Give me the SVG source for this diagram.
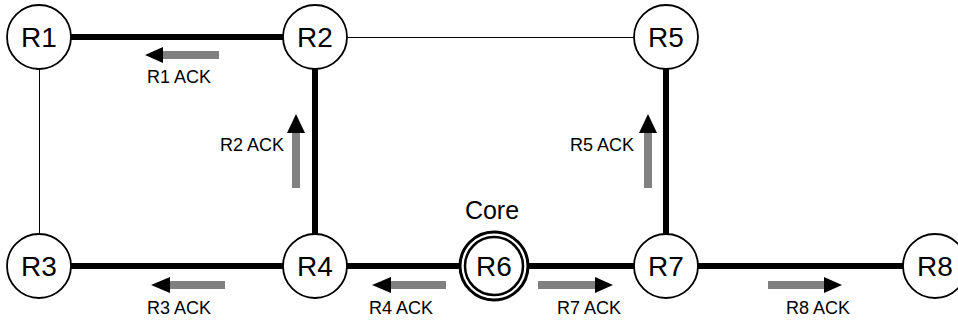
<svg xmlns="http://www.w3.org/2000/svg" width="958" height="322" viewBox="0 0 958 322">
<style>
.thin{stroke:#000;stroke-width:1;fill:none}
.thick{stroke:#000;stroke-width:6;fill:none}
.node{fill:#fff;stroke:#000;stroke-width:1.8}
.nl{font-family:"Liberation Sans",Arial,sans-serif;font-size:28px;text-anchor:middle;fill:#000}
.al{font-family:"Liberation Sans",Arial,sans-serif;font-size:18px;fill:#000}
.bar{fill:#808080}
.head{fill:#000}
</style>
<rect width="958" height="322" fill="#fff"/>
<g id="connectors">
<line class="thin" x1="39.5" y1="37" x2="39.5" y2="266"/>
<line class="thin" x1="315" y1="37.5" x2="666" y2="37.5"/>
<line class="thick" x1="39" y1="37" x2="315" y2="37"/>
<line class="thick" x1="315" y1="37" x2="315" y2="266"/>
<line class="thick" x1="666" y1="37" x2="666" y2="266"/>
<line class="thick" x1="39" y1="266" x2="935" y2="266"/>
</g>
<g id="acks">
<g id="ack-r1"><rect class="bar" x="163" y="51" width="56" height="8"/><polygon class="head" points="145,55 163,47 163,63"/><text class="al" x="179" y="83" text-anchor="middle">R1 ACK</text></g>
<g id="ack-r2"><rect class="bar" x="292" y="133" width="8" height="55"/><polygon class="head" points="296,114 287,133 305,133"/><text class="al" x="284" y="151" text-anchor="end">R2 ACK</text></g>
<g id="ack-r5"><rect class="bar" x="644" y="133" width="8" height="55"/><polygon class="head" points="648,114 639,133 657,133"/><text class="al" x="634" y="151" text-anchor="end">R5 ACK</text></g>
<g id="ack-r3"><rect class="bar" x="170" y="281" width="55" height="8"/><polygon class="head" points="151,285 170,277 170,293"/><text class="al" x="179" y="314" text-anchor="middle">R3 ACK</text></g>
<g id="ack-r4"><rect class="bar" x="391" y="281" width="55" height="8"/><polygon class="head" points="372,285 391,277 391,293"/><text class="al" x="401" y="314" text-anchor="middle">R4 ACK</text></g>
<g id="ack-r7"><rect class="bar" x="538" y="281" width="57" height="8"/><polygon class="head" points="613,285 595,277 595,293"/><text class="al" x="589" y="314" text-anchor="middle">R7 ACK</text></g>
<g id="ack-r8"><rect class="bar" x="768" y="281" width="56" height="8"/><polygon class="head" points="842,285 824,277 824,293"/><text class="al" x="818" y="314" text-anchor="middle">R8 ACK</text></g>
</g>
<g id="R1"><circle class="node" cx="39" cy="37" r="32"/><text class="nl" x="39" y="47">R1</text></g>
<g id="R2"><circle class="node" cx="315" cy="37" r="32"/><text class="nl" x="315" y="47">R2</text></g>
<g id="R5"><circle class="node" cx="666" cy="37" r="32"/><text class="nl" x="666" y="47">R5</text></g>
<g id="R3"><circle class="node" cx="39" cy="266" r="32"/><text class="nl" x="39" y="276">R3</text></g>
<g id="R4"><circle class="node" cx="315" cy="266" r="32"/><text class="nl" x="315" y="276">R4</text></g>
<g id="R6"><circle cx="494" cy="266" r="34" fill="#fff" stroke="#000" stroke-width="3"/><circle cx="494" cy="266" r="29" fill="#fff" stroke="#000" stroke-width="2.5"/><text class="nl" x="494" y="276">R6</text><text class="nl" x="492" y="219" style="font-size:25px">Core</text></g>
<g id="R7"><circle class="node" cx="666" cy="266" r="32"/><text class="nl" x="666" y="276">R7</text></g>
<g id="R8"><circle class="node" cx="935" cy="266" r="32"/><text class="nl" x="935" y="276">R8</text></g>
</svg>
